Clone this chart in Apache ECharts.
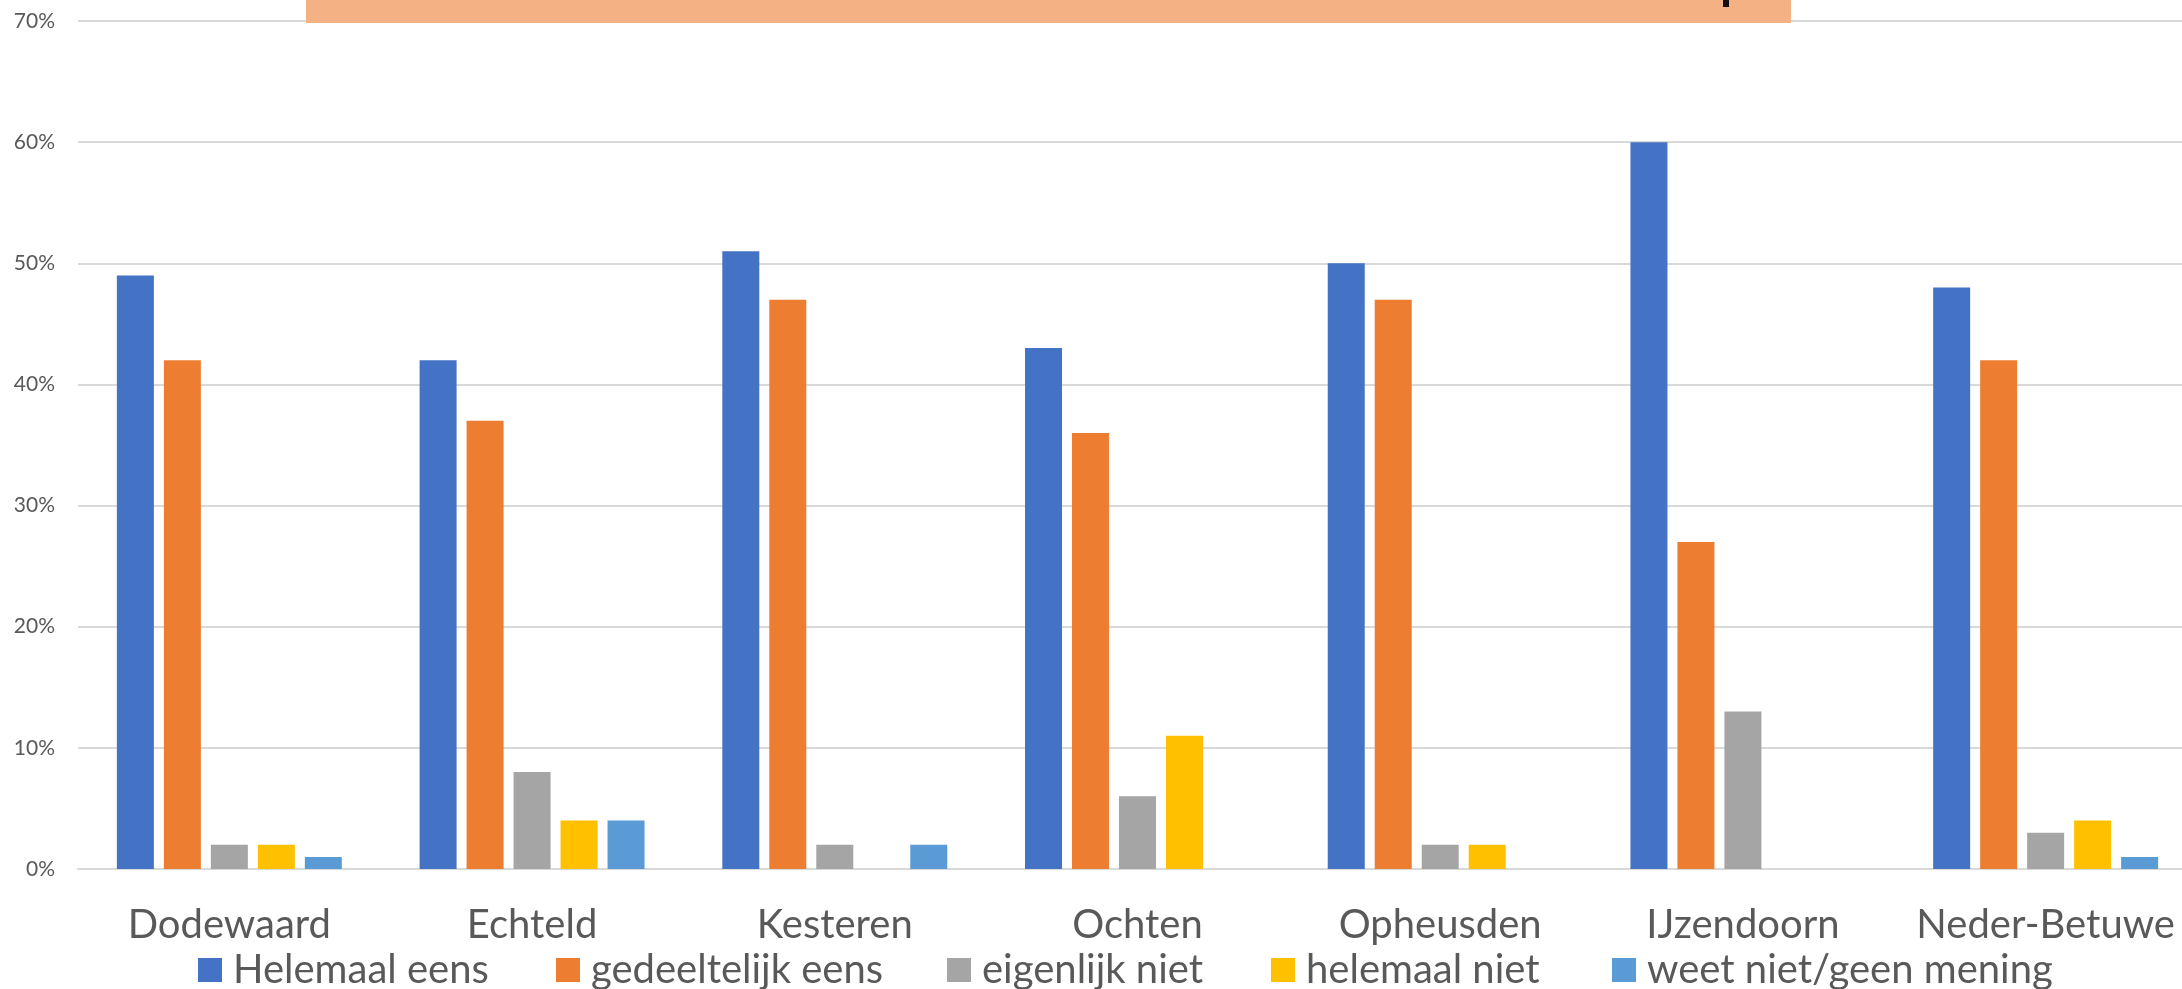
<!DOCTYPE html>
<html>
<head>
<meta charset="utf-8">
<script src="https://cdn.jsdelivr.net/npm/echarts@6/dist/echarts.min.js"></script>
<style>
html,body{margin:0;padding:0;background:#fff;overflow:hidden;}
#chart{width:2197px;height:989px;}
</style>
</head>
<body>
<div id="chart"></div>
<script>
const categories = ['Dodewaard','Echteld','Kesteren','Ochten','Opheusden','IJzendoorn','Neder-Betuwe'];
const seriesNames = ['Helemaal eens','gedeeltelijk eens','eigenlijk niet','helemaal niet','weet niet/geen mening'];
const helemaalEens = [49, 42, 51, 43, 50, 60, 48];
const gedeeltelijkEens = [42, 37, 47, 36, 47, 27, 42];
const eigenlijkNiet = [2, 8, 2, 6, 2, 13, 3];
const helemaalNiet = [2, 4, null, 11, 2, null, 4];
const weetNiet = [1, 4, 2, null, null, null, 1];
const yTicks = [0, 10, 20, 30, 40, 50, 60, 70];

const colors = ['#4472C4','#ED7D31','#A5A5A5','#FFC000','#5B9BD5'];
const values = [helemaalEens, gedeeltelijkEens, eigenlijkNiet, helemaalNiet, weetNiet];
const legendLefts = [193, 551, 942, 1266, 1607];
const font = 'Lato, "Open Sans", sans-serif';

const chart = echarts.init(document.getElementById('chart'));
chart.setOption({
  backgroundColor: '#ffffff',
  animation: false,
  color: colors,
  grid: { left: 78, top: 21, bottom: 120, right: 0, containLabel: false },
  xAxis: {
    type: 'category',
    data: categories,
    axisLine: { show: true, lineStyle: { color: '#D9D9D9', width: 2 } },
    axisTick: { show: false },
    axisLabel: { color: '#595959', fontSize: 40, fontFamily: font, margin: 36, interval: 0 }
  },
  yAxis: {
    type: 'value',
    min: yTicks[0],
    max: yTicks[yTicks.length - 1],
    interval: 10,
    axisLine: { show: false },
    axisTick: { show: false },
    splitLine: { lineStyle: { color: '#D9D9D9', width: 2 } },
    axisLabel: { color: '#595959', fontSize: 21, fontFamily: font, margin: 23, formatter: '{value}%' }
  },
  legend: seriesNames.map((n, i) => ({
    data: [n],
    left: legendLefts[i],
    top: 945,
    orient: 'horizontal',
    icon: 'rect',
    itemWidth: 24,
    itemHeight: 24,
    textStyle: { color: '#595959', fontSize: 40, fontFamily: font, padding: [0, 0, 0, 6] }
  })),
  series: seriesNames.map((n, i) => ({
    name: n,
    type: 'bar',
    data: values[i],
    barWidth: 37,
    barGap: '27%',
    itemStyle: { color: colors[i] }
  })),
  graphic: [
    { type: 'rect', z: 100, shape: { x: 306, y: 0, width: 1485, height: 23 }, style: { fill: '#F4B183' } },
    { type: 'rect', z: 101, shape: { x: 1723, y: 0, width: 6, height: 7 }, style: { fill: '#111111' } }
  ]
});
</script>
</body>
</html>
